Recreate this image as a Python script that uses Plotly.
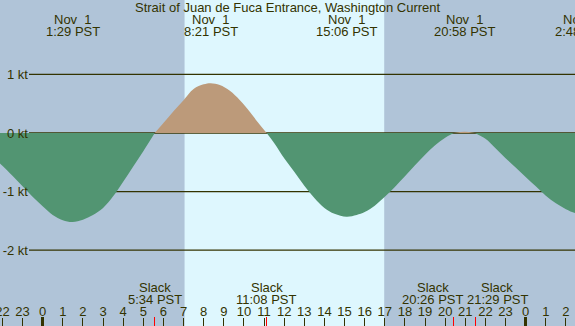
import plotly.graph_objects as go

# ---- data ----
hours = [-2.3, -2.0, -1.5, -1.0, -0.5, 0.0, 0.5, 1.0, 1.48, 2.0, 2.5, 3.0, 3.5, 4.0, 4.5, 5.0, 5.57,
         6.0, 6.5, 7.0, 7.5, 8.0, 8.35, 8.8, 9.3, 9.8, 10.3, 10.7, 11.13,
         11.5, 12.0, 12.5, 13.0, 13.5, 14.0, 14.5, 15.1, 15.6, 16.0, 16.5, 17.0, 17.5, 18.0,
         18.5, 19.0, 19.5, 20.0, 20.43,
         20.97, 21.48,
         22.0, 22.5, 23.0, 23.5, 24.0, 24.5, 25.0, 25.5, 26.0, 26.5, 26.8]
speed_kt = [-0.46, -0.56, -0.73, -0.91, -1.09, -1.25, -1.40, -1.49, -1.52, -1.48, -1.40, -1.28,
            -1.08, -0.83, -0.57, -0.31, 0.0,
            0.17, 0.37, 0.56, 0.75, 0.83, 0.85, 0.82, 0.72, 0.56, 0.36, 0.18, 0.0,
            -0.17, -0.43, -0.66, -0.90, -1.11, -1.28, -1.38, -1.43, -1.40, -1.35, -1.24, -1.09,
            -0.92, -0.74, -0.55, -0.37, -0.21, -0.08, 0.0,
            0.02, 0.0,
            -0.10, -0.26, -0.43, -0.59, -0.75, -0.91, -1.07, -1.20, -1.30, -1.37, -1.38]

ext_hours = [1.483, 8.35, 15.1, 20.967, 26.8]
ext_dates = ["Nov\u00a0 1", "Nov\u00a0 1", "Nov\u00a0 1", "Nov\u00a0 1", "Nov\u00a0 2"]
ext_clock = ["1:29 PST", "8:21 PST", "15:06 PST", "20:58 PST", "2:48 PST"]

slack_hours = [5.567, 11.133, 20.433, 21.483]
slack_clock = ["5:34 PST", "11:08 PST", "20:26 PST", "21:29 PST"]

sunrise, sunset = 7.05, 16.97
midnights = [0, 24]
hour_ticks = list(range(-2, 27))
hour_labels = [str(h % 24) for h in hour_ticks]
kt_ticks = [1, 0, -1, -2]
kt_labels = ["1 kt", "0 kt", "-1 kt", "-2 kt"]
title = "Strait of Juan de Fuca Entrance, Washington Current"

# ---- style ----
W, H = 575, 326
NIGHT = "#b0c4d8"
DAY = "#def7fe"
EBB = "#529572"
FLOOD = "#bc9a7a"
INK = "#333300"
FONT = "Liberation Sans, Arial, sans-serif"
XR = [-2.12, 26.45]
YR = [-3.294, 2.27]


def to_paper(t):
    return (t - XR[0]) / (XR[1] - XR[0])


fig = go.Figure()

# split into runs of same sign (slack points shared)
runs = []
cur = [(hours[0], speed_kt[0])]
for t, v in zip(hours[1:], speed_kt[1:]):
    cur.append((t, v))
    if v == 0:
        runs.append(cur)
        cur = [(t, v)]
if len(cur) > 1:
    runs.append(cur)

for run in runs:
    xs = [p[0] for p in run]
    ys = [p[1] for p in run]
    pos = sum(ys) > 0
    fig.add_trace(go.Scatter(
        x=xs, y=ys, mode="lines", line=dict(width=0, shape="spline", smoothing=1.0),
        fill="tozeroy", fillcolor=FLOOD if pos else EBB, hoverinfo="skip", showlegend=False))

# day shading and kt lines
shapes = [dict(type="rect", xref="x", yref="paper", x0=sunrise, x1=sunset, y0=0, y1=1,
               fillcolor=DAY, line=dict(width=0), layer="below")]
for k in kt_ticks:
    shapes.append(dict(type="line", xref="paper", yref="y", x0=29 / W, x1=1, y0=k, y1=k,
                       line=dict(color=INK, width=1.3), layer="below"))
fig.update_layout(shapes=shapes)

f13 = dict(size=13, color=INK, family=FONT)
ann = [dict(text=title, x=0.5, y=1 - 8 / H, xref="paper", yref="paper", showarrow=False,
            font=f13, xanchor="center", yanchor="middle")]
for t, d, c in zip(ext_hours, ext_dates, ext_clock):
    ann.append(dict(text=d, x=to_paper(t), y=1 - 20 / H, xref="paper", yref="paper",
                    showarrow=False, font=f13, xanchor="center", yanchor="middle"))
    ann.append(dict(text=c, x=to_paper(t), y=1 - 31.5 / H, xref="paper", yref="paper",
                    showarrow=False, font=f13, xanchor="center", yanchor="middle"))
shifts = [0, 0, -21, 22]
for t, c, s in zip(slack_hours, slack_clock, shifts):
    ann.append(dict(text="Slack", x=t, xshift=s, y=1 - 287.5 / H, xref="x", yref="paper",
                    showarrow=False, font=f13, xanchor="center", yanchor="middle"))
    ann.append(dict(text=c, x=t, xshift=s, y=1 - 299 / H, xref="x", yref="paper",
                    showarrow=False, font=f13, xanchor="center", yanchor="middle"))
fig.update_layout(annotations=ann)

fig.update_layout(
    width=W, height=H, margin=dict(l=0, r=0, t=0, b=0, autoexpand=False),
    paper_bgcolor=NIGHT, plot_bgcolor=NIGHT,
    font=dict(family=FONT, size=13, color=INK),
    xaxis=dict(range=XR, showgrid=False, zeroline=False, showline=False, automargin=False,
               tickvals=hour_ticks, ticktext=hour_labels, ticks="inside", ticklen=8,
               tickcolor=INK, tickwidth=1, ticklabelposition="inside", ticklabelstandoff=-1,
               ticklabeloverflow="allow", tickfont=f13, fixedrange=True),
    xaxis2=dict(range=XR, overlaying="x", anchor="y", showgrid=False, zeroline=False,
                showline=False, tickvals=midnights, showticklabels=False, ticks="inside",
                ticklen=9, tickwidth=3, tickcolor=INK, automargin=False),
    xaxis3=dict(range=XR, overlaying="x", anchor="y", showgrid=False, zeroline=False,
                showline=False, tickvals=slack_hours, showticklabels=False, ticks="inside",
                ticklen=9, tickwidth=1, tickcolor="#ff0000", automargin=False),
    yaxis=dict(range=YR, showgrid=False, zeroline=False, showline=False,
               showticklabels=False, fixedrange=True, automargin=False),
    yaxis2=dict(range=YR, overlaying="y", anchor="free", position=29 / W, side="left",
                showgrid=False, zeroline=False, showline=False, tickvals=kt_ticks,
                ticktext=kt_labels, ticks="", ticklabelstandoff=1, automargin=False,
                tickfont=f13),
)
# invisible traces to activate overlay axes
fig.add_trace(go.Scatter(x=[None], y=[None], xaxis="x2", yaxis="y", showlegend=False))
fig.add_trace(go.Scatter(x=[None], y=[None], xaxis="x3", yaxis="y", showlegend=False))
fig.add_trace(go.Scatter(x=[None], y=[None], xaxis="x", yaxis="y2", showlegend=False))

fig.write_html("out.html", config={"displayModeBar": False},
               post_script="document.body.style.margin='0';document.body.style.overflow='hidden';")
